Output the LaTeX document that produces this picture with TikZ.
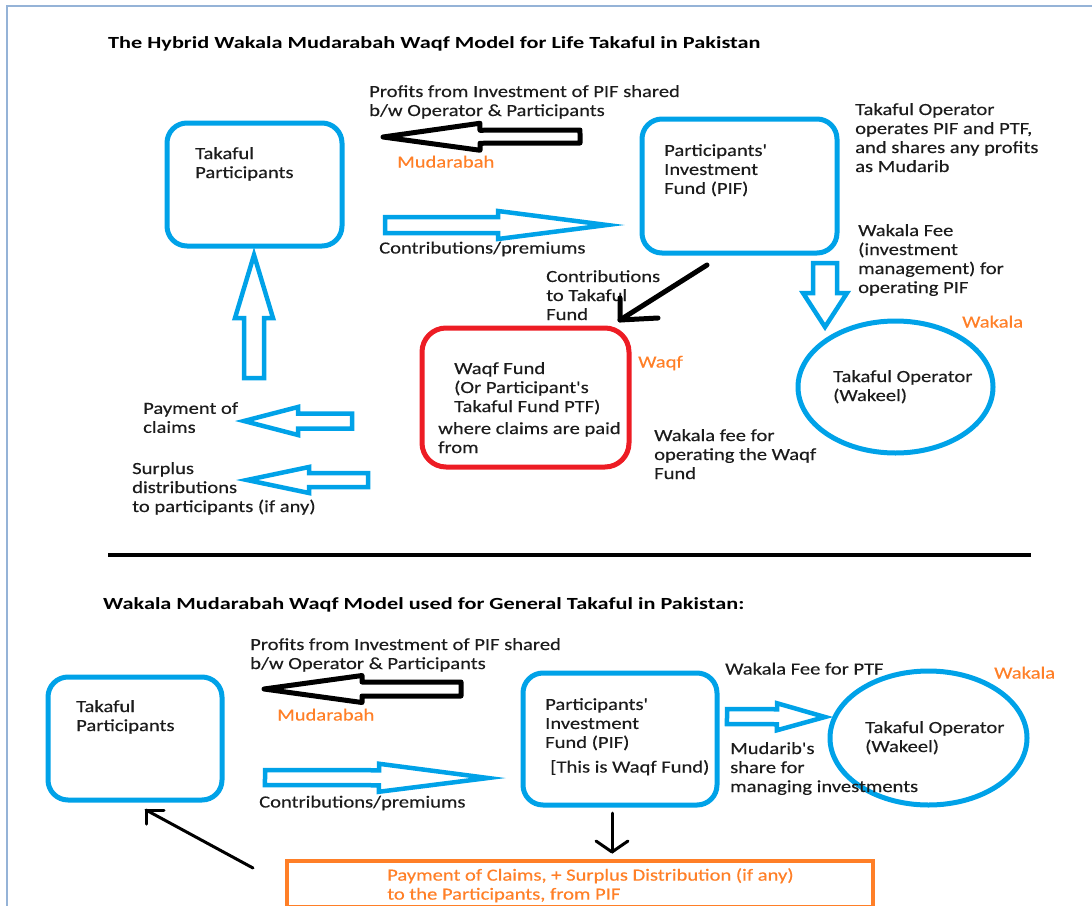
\documentclass[tikz,border=0pt]{standalone}
\usepackage{fontspec}
\setmainfont{Carlito}
\newfontfamily\bodyf[FakeStretch=1.21, FakeBold=0.35]{Carlito}
\newfontfamily\headf[FakeStretch=1.31]{Carlito}
\usetikzlibrary{calc,shapes.geometric}

\definecolor{tkblue}{RGB}{0,162,232}
\definecolor{tkred}{RGB}{237,28,36}
\definecolor{tkorange}{RGB}{255,127,39}
\definecolor{framebl}{RGB}{149,179,215}
\definecolor{ink}{RGB}{28,28,28}

% hollow block arrow: #1 style, #2 tail, #3 tip, #4 head length, #5 half head width, #6 half shaft width
\newcommand\hollowarrow[6]{%
  \coordinate (hbase) at ($(#3)!#4pt!(#2)$);
  \draw[#1] ($(#2)!#6pt!90:(#3)$) -- ($(hbase)!#6pt!90:(#3)$) -- ($(hbase)!#5pt!90:(#3)$)
    -- (#3) -- ($(hbase)!#5pt!-90:(#3)$) -- ($(hbase)!#6pt!-90:(#3)$) -- ($(#2)!#6pt!-90:(#3)$) -- cycle;}

\tikzset{
  bluebox/.style={draw=tkblue, line width=5pt, rounded corners=20pt, inner sep=0pt},
  bluering/.style={ellipse, draw=tkblue, line width=5pt, inner sep=0pt},
  redbox/.style={draw=tkred, line width=5pt, rounded corners=24pt, inner sep=0pt},
  orangebox/.style={draw=tkorange, line width=3.5pt, inner sep=0pt},
  txt/.style={anchor=north west, inner sep=0pt, yshift=8pt, align=left, text=ink,
    font=\bodyf\fontsize{17}{19}\selectfont, execute at begin node=\strut},
  otxt/.style={txt, text=tkorange},
  headtxt/.style={txt, text=black, font=\headf\bfseries\fontsize{17}{19}\selectfont},
  bluearrow/.style={draw=tkblue, line width=4.5pt, fill=white, line join=miter},
  blackarrow/.style={draw=black, line width=5pt, fill=white, line join=round},
  thinline/.style={draw=black, line width=3pt, line cap=round, line join=round},
  thickline/.style={draw=black, line width=5pt, line cap=round, line join=round},
  framerule/.style={draw=framebl, line width=2pt},
}

\begin{document}
\begin{tikzpicture}[x=1pt, y=-1pt]
\useasboundingbox (0,0) rectangle (1092,905);
\clip (0,0) rectangle (1092,905);

% page frame
\draw[framerule] (7,906) -- (7,6) -- (1093,6);

%% ---------------- Life Takaful (hybrid model) ----------------
\node[headtxt] (title1) at (108,43) {The Hybrid Wakala Mudarabah Waqf Model for Life Takaful in Pakistan};

\node[bluebox, minimum width=175pt, minimum height=123pt] (tp1) at (254.5,184.5) {};
\node[txt] (tp1t) at (195,155) {Takaful\\Participants};

\node[bluebox, minimum width=195pt, minimum height=134pt] (pif1) at (739.5,186) {};
\node[txt] (pif1t) at (664,152) {Participants'\\Investment\\Fund (PIF)};

\node[redbox, minimum width=207pt, minimum height=139pt] (waqf) at (525.5,397.5) {};
\node[txt] (waqft) at (454,370) {Waqf Fund\\(Or Participant's\\Takaful Fund PTF)};
\node[txt] (waqfu) at (438,430) {where claims are paid\\from};

\node[bluering, minimum width=195pt, minimum height=132pt] (op1) at (895.5,387) {};
\node[txt] (op1t) at (833,378) {Takaful Operator\\(Wakeel)};

\node[txt] (prof1) at (369,93) {Profits from Investment of PIF shared\\b/w Operator \& Participants};
\node[otxt] (mud1) at (397,162) {Mudarabah};
\node[txt] (contr1) at (379,248) {Contributions/premiums};
\node[txt] (opnote) at (855,111) {Takaful Operator\\operates PIF and PTF,\\and shares any profits\\as Mudarib};
\node[txt] (wfee1) at (858,232) {Wakala Fee\\(investment\\management) for\\operating PIF};
\node[otxt] (wak1) at (962,322) {Wakala};
\node[txt] (totf) at (546,278) {Contributions\\to Takaful\\Fund};
\node[otxt] (waqflbl) at (638,362) {Waqf};
\node[txt] (wfee2) at (654,437) {Wakala fee for\\operating the Waqf\\Fund};
\node[txt] (pay) at (143,410) {Payment of\\claims};
\node[txt] (surp) at (132,470) {Surplus\\distributions\\to participants (if any)};

% block arrows
\coordinate (a1t) at (580,136.5);  \coordinate (a1h) at (383,137);
\hollowarrow{blackarrow}{a1t}{a1h}{97}{13.5}{6.5}
\coordinate (a2t) at (385,225);    \coordinate (a2h) at (607,225);
\hollowarrow{bluearrow}{a2t}{a2h}{109}{14}{8}
\coordinate (a3t) at (825,263);    \coordinate (a3h) at (825,327);
\hollowarrow{bluearrow}{a3t}{a3h}{34}{22}{12}
\coordinate (a4t) at (254,378);    \coordinate (a4h) at (254,255);
\hollowarrow{bluearrow}{a4t}{a4h}{63}{19}{10}
\coordinate (a5t) at (352,421);    \coordinate (a5h) at (244,421);
\hollowarrow{bluearrow}{a5t}{a5h}{54}{14}{7.5}
\coordinate (a6t) at (368,480);    \coordinate (a6h) at (247,480);
\hollowarrow{bluearrow}{a6t}{a6h}{62}{13}{7}

% PIF to Waqf Fund
\coordinate (b1s) at (707,265);  \coordinate (b1e) at (620,320);
\draw[thickline] (b1s) -- (b1e);
\draw[thickline] ($(b1e)+(0,-22)$) -- (b1e) -- ($(b1e)+(38,-2)$);

% divider
\draw[draw=black, line width=3.5pt] (108,555) -- (1031,555);

%% ---------------- General Takaful ----------------
\node[headtxt] (title2) at (103,604) {Wakala Mudarabah Waqf Model used for General Takaful in Pakistan:};

\node[bluebox, minimum width=174pt, minimum height=123pt] (tp2) at (135,738.5) {};
\node[txt] (tp2t) at (76,708) {Takaful\\Participants};

\node[bluebox, minimum width=194pt, minimum height=132pt] (pif2) at (620,739) {};
\node[txt] (pif2t) at (545,706) {Participants'\\Investment\\Fund (PIF)};
\node[txt] (pif2w) at (550,767) {[This is Waqf Fund)};

\node[bluering, minimum width=197pt, minimum height=134pt] (op2) at (928.5,738) {};
\node[txt] (op2t) at (865,729) {Takaful Operator\\(Wakeel)};

\node[txt] (prof2) at (250,646) {Profits from Investment of PIF shared\\b/w Operator \& Participants};
\node[otxt] (mud2) at (277,715) {Mudarabah};
\node[txt] (contr2) at (259,802) {Contributions/premiums};
\node[txt] (wptf) at (725,669) {Wakala Fee for PTF};
\node[otxt] (wak2) at (994,673) {Wakala};
\node[txt] (mudarib) at (730,750) {Mudarib's\\share for\\managing investments};

\node[orangebox, minimum width=586pt, minimum height=46pt] (claims) at (580,884) {};
\node[otxt] (claimst) at (387,876) {Payment of Claims, + Surplus Distribution (if any)\\to the Participants, from PIF};

% block arrows
\coordinate (c1t) at (461,689);    \coordinate (c1h) at (264,689);
\hollowarrow{blackarrow}{c1t}{c1h}{98}{13.5}{7}
\coordinate (c2t) at (265,777.5);  \coordinate (c2h) at (488,778);
\hollowarrow{bluearrow}{c2t}{c2h}{109}{14}{7.5}
\coordinate (c3t) at (727,716.5);  \coordinate (c3h) at (825,717);
\hollowarrow{bluearrow}{c3t}{c3h}{48}{13.5}{7.5}

% PIF down to claims box
\coordinate (d1s) at (612,813);  \coordinate (d1e) at (612,852);
\draw[thinline] (d1s) -- (d1e);
\draw[thinline] (596,841) -- (d1e) -- (628,841);

% claims back to participants
\coordinate (d2s) at (253,868);  \coordinate (d2e) at (146,810);
\draw[thinline] (d2s) -- (d2e);
\draw[thinline] ($(d2e)+(0,14)$) -- (d2e) -- ($(d2e)+(18,0)$);
\end{tikzpicture}
\end{document}
